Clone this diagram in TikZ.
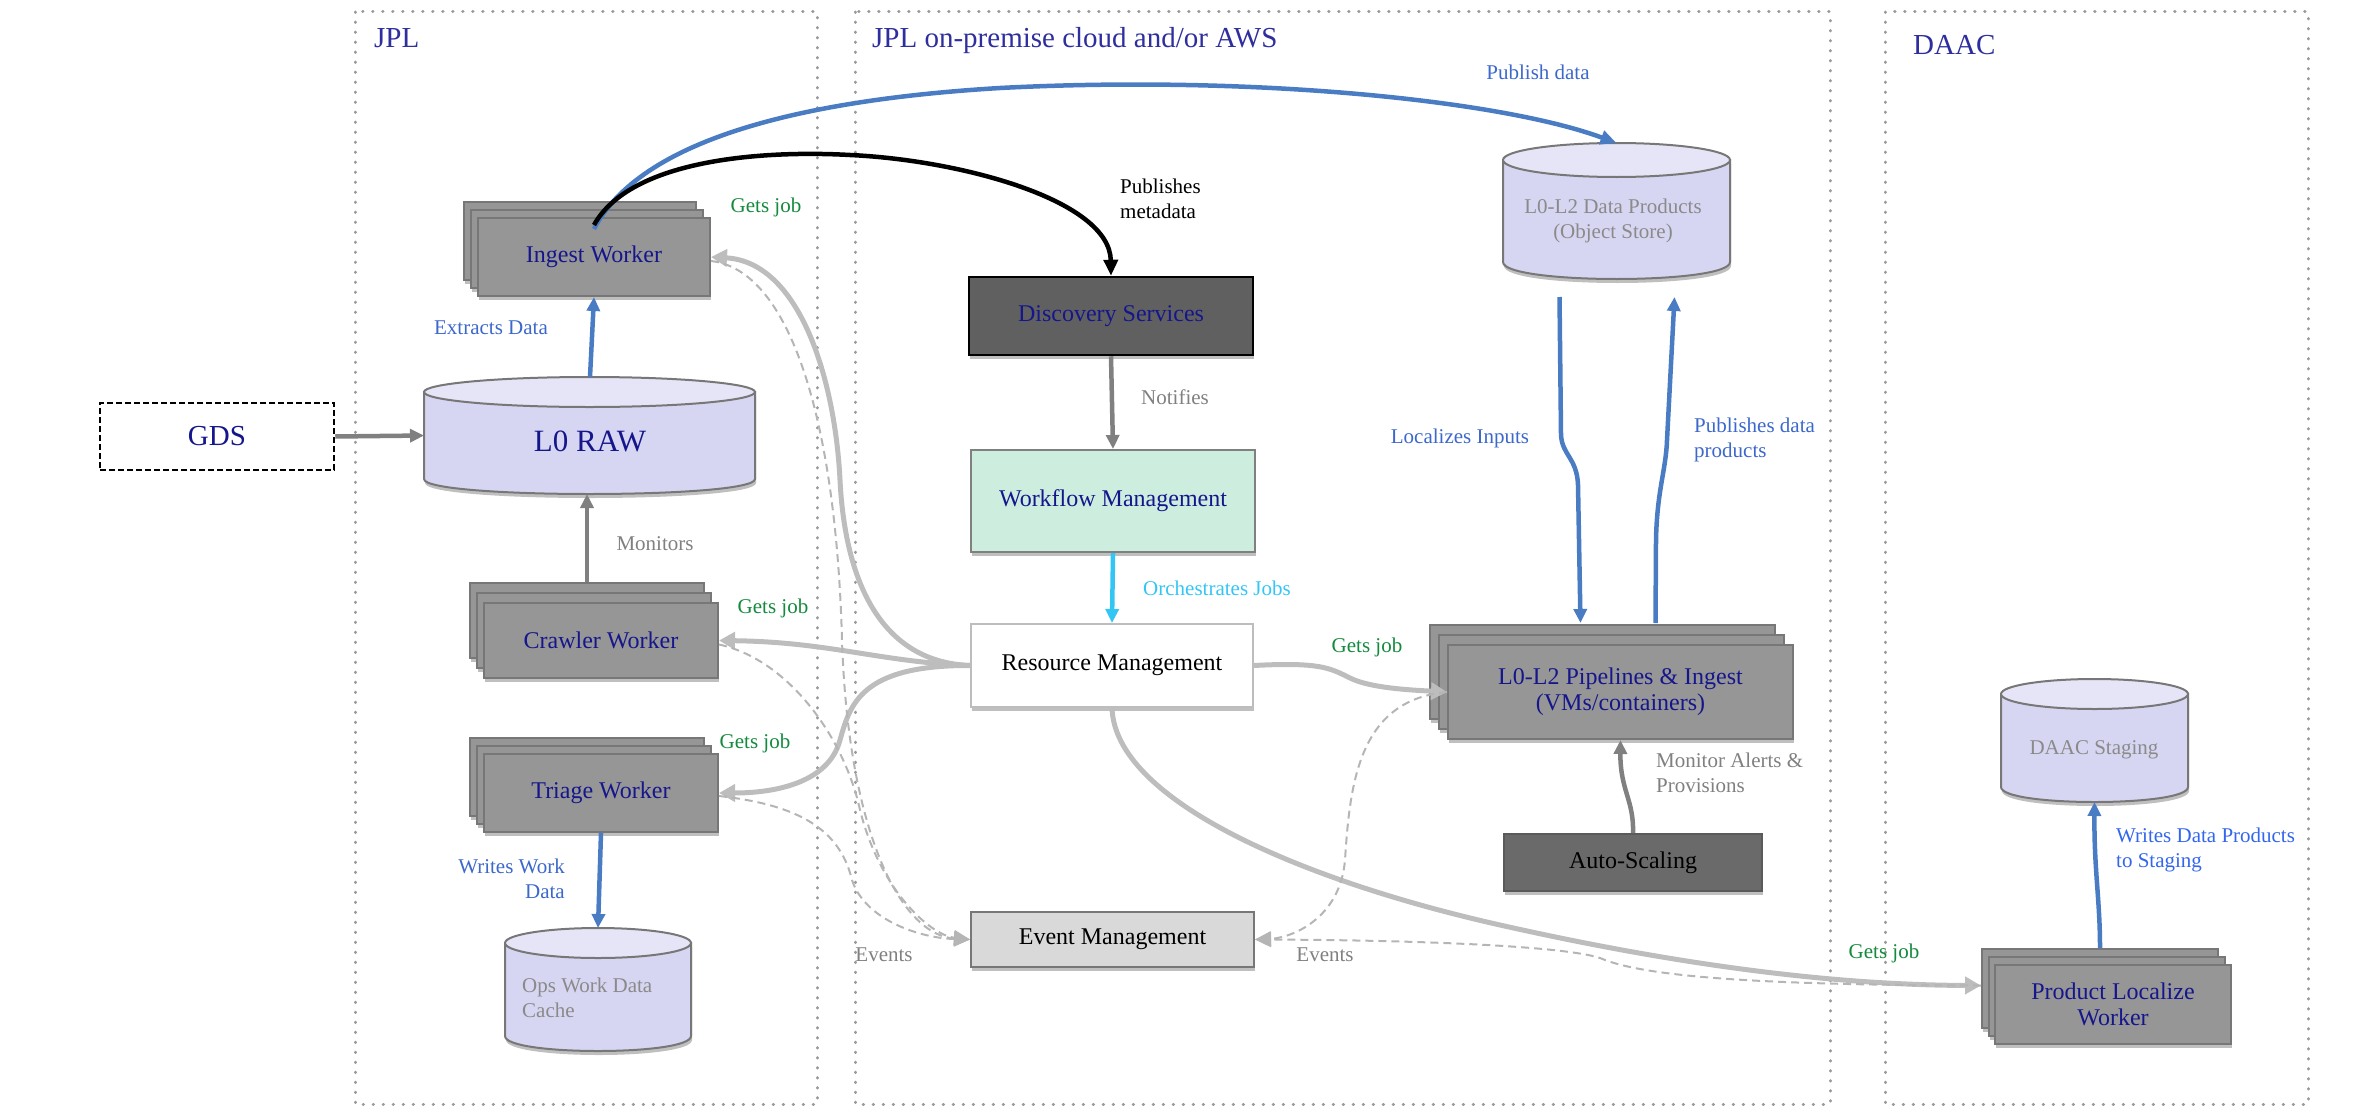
\documentclass[tikz,border=0pt]{standalone}
\usepackage{fontspec}
\setmainfont{Liberation Serif}
\usetikzlibrary{arrows.meta,shadows,fit}
\definecolor{navy}{HTML}{16168C}
\definecolor{panelblue}{HTML}{2E2E9E}
\definecolor{panelgray}{HTML}{9A9A9A}
\definecolor{wfill}{HTML}{969696}
\definecolor{wdraw}{HTML}{777777}
\definecolor{cylbodyc}{HTML}{D6D6F2}
\definecolor{cyltopc}{HTML}{E5E5F7}
\definecolor{cyldraw}{HTML}{777777}
\definecolor{gjgray}{HTML}{BDBDBD}
\definecolor{evgray}{HTML}{B5B5B5}
\definecolor{arrowgray}{HTML}{808080}
\definecolor{arrowblue}{HTML}{4A7CC4}
\definecolor{cyanarrow}{HTML}{33C6F5}
\definecolor{lblblue}{HTML}{3C68CC}
\definecolor{lblblue2}{HTML}{3366EE}
\definecolor{gjgreen}{HTML}{138A3C}
\definecolor{lblgray}{HTML}{808080}
\definecolor{cyltext}{HTML}{8A8A8A}
\definecolor{mint}{HTML}{CDEEDF}
\definecolor{dsfill}{HTML}{606060}
\definecolor{asfill}{HTML}{6A6A6A}
\definecolor{emfill}{HTML}{D9D9D9}

\newcommand\dbcyl[6]{%
  \path[cylbody] (#2,#3+#6) -- (#2,#5-#6) .. controls (#2,#5+#6/3) and (#4,#5+#6/3) .. (#4,#5-#6) -- (#4,#3+#6) -- cycle;
  \path[cyltop] ({(#2+#4)/2},#3+#6) ellipse [x radius={(#4-#2)/2}, y radius=#6];
  \coordinate (#1-nw) at (#2,#3);
  \coordinate (#1-se) at (#4,#5);
  \node[fit=(#1-nw)(#1-se), inner sep=0pt, outer sep=0pt] (#1) {};
}
\newcommand\stackbox[9]{%
  \path[wback] (#2-#4/2-2*#6, #3-#5/2-2*#7) rectangle ++(#4,#5);
  \path[wback] (#2-#4/2-#6, #3-#5/2-#7) rectangle ++(#4,#5);
  \node[worker, minimum width=#4pt, minimum height=#5pt, #8] (#1) at (#2,#3) {#9};
}

\begin{document}
\begin{tikzpicture}[x=1pt,y=-1pt,
  sh/.style={drop shadow={shadow xshift=1pt, shadow yshift=-4pt, opacity=0.25, fill=black}},
  panel/.style={draw=panelgray, line width=3pt, line cap=round, dash pattern=on 0.5pt off 9.5pt},
  paneltitle/.style={anchor=base west, text=panelblue, font=\fontsize{29}{32}\selectfont, inner sep=0pt},
  lbl/.style={font=\fontsize{21}{25}\selectfont, inner sep=1pt, align=left},
  ntext/.style={font=\fontsize{24}{26}\selectfont, align=center},
  plainbox/.style={ntext, draw, line width=2pt, inner sep=2pt},
  box/.style={plainbox, sh},
  worker/.style={box, fill=wfill, draw=wdraw, text=navy},
  wback/.style={fill=wfill, draw=wdraw, line width=2pt, sh},
  cylbody/.style={fill=cylbodyc, draw=cyldraw, line width=2pt, sh},
  cyltop/.style={fill=cyltopc, draw=cyldraw, line width=2pt},
  gj/.style={draw=gjgray, line width=5pt, -{Triangle[length=16pt,width=17pt]}},
  ev/.style={draw=evgray, line width=2pt, dash pattern=on 8pt off 5pt, -{Triangle[length=16pt,width=15pt,fill=evgray]}},
  bl/.style={draw=arrowblue, line width=4.5pt, -{Triangle[length=14pt,width=13pt]}},
  gr/.style={draw=arrowgray, line width=4.5pt, -{Triangle[length=14pt,width=13pt]}}
]
\useasboundingbox (0,0) rectangle (2368,1108);

% panels
\draw[panel] (355,12) rectangle (817,1104);
\draw[panel] (855,12) rectangle (1830,1104);
\draw[panel] (1885,12) rectangle (2308,1104);
\node[paneltitle] (tjpl) at (374,48) {JPL};
\node[paneltitle] (tcloud) at (872,48) {JPL on-premise cloud and/or AWS};
\node[paneltitle] (tdaac) at (1913,55) {DAAC};

% cylinders
\dbcyl{l0}{424}{377}{755}{494}{15}
\dbcyl{ops}{505}{928}{691}{1051}{15}
\dbcyl{dp}{1503}{143}{1730}{279}{17}
\dbcyl{stg}{2001}{679}{2188}{802}{15}
\node[text=navy, font=\fontsize{31}{34}\selectfont] (l0t) at (590,441) {L0 RAW};
\node[lbl, text=cyltext, anchor=west] (opst) at (521,998) {Ops Work Data\\Cache};
\node[lbl, text=cyltext, align=center] (dpt) at (1613,221) {L0-L2 Data Products\\(Object Store)};
\node[lbl, text=cyltext] (stgt) at (2094,750) {DAAC Staging};

% boxes
\node[plainbox, fill=white, draw=black, dash pattern=on 6pt off 3pt, line width=2.5pt, minimum width=234pt, minimum height=67pt, text=navy, font=\fontsize{29}{32}\selectfont] (gds) at (217,436.5) {GDS};
\stackbox{ingest}{594}{257}{232}{78}{7}{8}{}{Ingest Worker}
\stackbox{crawler}{601}{640.5}{234}{75}{7}{10}{}{Crawler Worker}
\stackbox{triage}{601}{793}{234}{78}{7}{8}{}{Triage Worker}
\stackbox{pl}{1620.5}{692}{345}{94}{9}{10}{}{L0-L2 Pipelines \& Ingest\\(VMs/containers)}
\stackbox{pdl}{2113}{1004.5}{236}{79}{6.5}{8}{}{Product Localize\\Worker}
\node[box, fill=dsfill, draw=black, line width=2.5pt, text=navy, minimum width=284pt, minimum height=78pt] (ds) at (1111,316) {Discovery Services};
\node[box, fill=mint, draw=arrowgray, text=navy, minimum width=284pt, minimum height=102pt] (wf) at (1113,501) {Workflow Management};
\node[box, fill=white, draw=gjgray, text=black, minimum width=282pt, minimum height=83pt] (rm) at (1112,665.5) {Resource Management};
\node[box, fill=emfill, draw=wdraw, text=black, minimum width=283pt, minimum height=55pt] (em) at (1112.5,939.5) {Event Management};
\node[box, fill=asfill, draw=asfill!85!black, text=black, minimum width=258pt, minimum height=57pt] (as) at (1633,862.5) {Auto-Scaling};

% publish curves
\draw[draw=arrowblue, line width=4.5pt, -{Triangle[length=16pt,width=14pt]}] ([yshift=-12pt]ingest.north) .. controls (640,140) and (800,100) .. (1000,88) .. controls (1250,75) and (1500,100) .. (dp.north);
\draw[draw=black, line width=4.5pt, -{Triangle[length=16pt,width=14pt]}] ([yshift=-8pt]ingest.north) .. controls (630,160) and (760,150) .. (850,155) .. controls (960,160) and (1110,200) .. (ds.north);

% simple arrows
\draw[gr] (gds.east) -- (l0.west);
\draw[bl] (l0.north -| 590,0) -- (ingest.south);
\draw[gr] ([shift={(-14,-20)}]crawler.north) -- (587,494);
\draw[bl] (triage.south) -- (ops.north);
\draw[gr] (ds.south) -- (wf.north);
\draw[draw=cyanarrow, line width=4.5pt, -{Triangle[length=14pt,width=13pt]}] (wf.south) -- (rm.north);
\draw[gr] (as.north) .. controls (1634,800) and (1620,790) .. (pl.south);
\draw[bl] ([shift={(-57,18)}]dp.south) -- (1561,435) .. controls (1562,455) and (1577,458) .. (1578,485) -- ([shift={(-40,-21)}]pl.north);
\draw[bl] ([shift={(35,-21)}]pl.north) -- (1656,540) .. controls (1657,490) and (1666,470) .. (1667,440) -- ([shift={(58,18)}]dp.south);
\draw[draw=arrowblue, line width=4.5pt, -{Triangle[length=14pt,width=13pt]}] ([shift={(-13,-16)}]pdl.north) .. controls (2100,900) and (2094,870) .. (stg.south);

% gets job connectors
\draw[gj] (rm.west) .. controls (880,662) and (845,580) .. (840,480) .. controls (835,380) and (800,262) .. (ingest.east);
\draw[gj] (rm.west) .. controls (880,662) and (830,642) .. (crawler.east);
\draw[gj] (rm.west) .. controls (860,665) and (850,705) .. (840,740) .. controls (828,785) and (770,793) .. (triage.east);
\draw[gj] (rm.east) .. controls (1320,662) and (1330,668) .. (1350,678) .. controls (1370,688) and (1410,690) .. (pl.west);
\draw[gj] (rm.south) .. controls (1115,800) and (1300,880) .. (1500,925) .. controls (1700,970) and (1850,985) .. ([shift={(-13,-19)}]pdl.west);

% event connectors
\draw[ev] ([yshift=-4pt]ingest.east) .. controls (790,270) and (836,420) .. (842,640) .. controls (848,830) and (900,935) .. (em.west);
\draw[ev] ([yshift=-4pt]crawler.east) .. controls (790,660) and (845,740) .. (860,810) .. controls (880,890) and (930,935) .. (em.west);
\draw[ev] ([yshift=-3pt]triage.east) .. controls (800,805) and (840,830) .. (852,880) .. controls (865,920) and (920,938) .. (em.west);
\draw[ev] (pl.west) .. controls (1360,700) and (1350,780) .. (1345,860) .. controls (1340,920) and (1290,938) .. (em.east);
\draw[ev] ([shift={(-13,-19)}]pdl.west) .. controls (1800,985) and (1650,980) .. (1600,958) .. controls (1560,945) and (1400,940) .. (em.east);

% labels
\node[lbl, text=gjgreen] (gj1) at (766,207) {Gets job};
\node[lbl, text=gjgreen] (gj2) at (773,608) {Gets job};
\node[lbl, text=gjgreen] (gj3) at (755,743) {Gets job};
\node[lbl, text=gjgreen] (gj4) at (1367,647) {Gets job};
\node[lbl, text=gjgreen] (gj5) at (1884,953) {Gets job};
\node[lbl, text=lblgray] (lmon) at (655,544) {Monitors};
\node[lbl, text=lblblue] (lext) at (491,328) {Extracts Data};
\node[lbl, text=lblblue, align=right, anchor=east] (lwwd) at (566,879) {Writes Work\\Data};
\node[lbl, text=lblgray] (lnot) at (1175,397) {Notifies};
\node[lbl, text=cyanarrow] (lorch) at (1217,588) {Orchestrates Jobs};
\node[lbl, text=black, anchor=west] (lpm) at (1119,199) {Publishes\\metadata};
\node[lbl, text=lblblue] (lpd) at (1538,72) {Publish data};
\node[lbl, text=lblblue] (lloc) at (1460,438) {Localizes Inputs};
\node[lbl, text=lblblue, anchor=west] (lpdp) at (1693,440) {Publishes data\\products};
\node[lbl, text=lblgray, anchor=west] (lmap) at (1655,773) {Monitor Alerts \&\\Provisions};
\node[lbl, text=lblgray] (lev1) at (884,955) {Events};
\node[lbl, text=lblgray] (lev2) at (1325,955) {Events};
\node[lbl, text=lblblue2, anchor=west] (lwdp) at (2115,850) {Writes Data Products\\to Staging};
\end{tikzpicture}
\end{document}
